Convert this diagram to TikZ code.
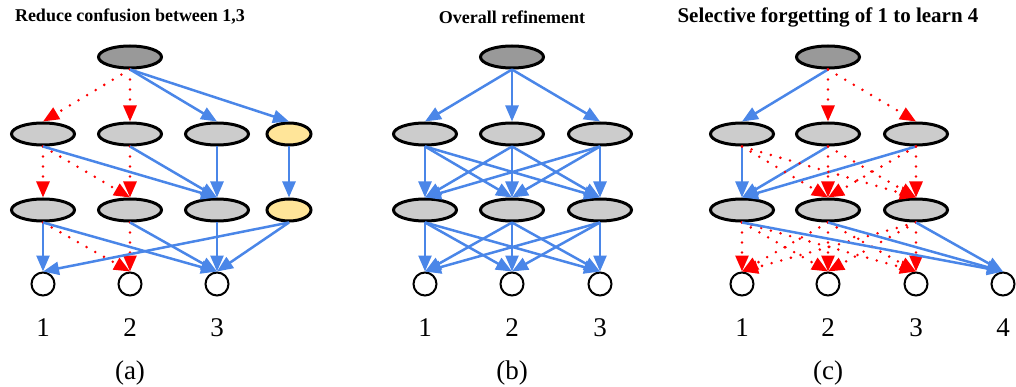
\documentclass[tikz,border=0pt]{standalone}
\usepackage{fontspec}
\setmainfont{Liberation Serif}
\usetikzlibrary{arrows.meta,shapes.geometric}
\definecolor{eblue}{HTML}{4A86E8}
\definecolor{topgray}{HTML}{999999}
\definecolor{midgray}{HTML}{CCCCCC}
\definecolor{yel}{HTML}{FFE599}
\tikzset{
  topn/.style={ellipse, draw, line width=3pt, fill=topgray, minimum width=63pt, minimum height=22pt, inner sep=0pt},
  midn/.style={ellipse, draw, line width=3pt, fill=midgray, minimum width=63pt, minimum height=22pt, inner sep=0pt},
  yeln/.style={ellipse, draw, line width=3pt, fill=yel, minimum width=44pt, minimum height=22pt, inner sep=0pt},
  outn/.style={circle, draw, line width=2pt, fill=white, minimum size=23pt, inner sep=0pt},
  bl/.style={draw=eblue, line width=2.5pt, -{Triangle[length=16pt,width=13pt]}},
  rd/.style={draw=red, line width=2.8pt, line cap=round, dash pattern=on 0pt off 10pt, -{Triangle[length=16pt,width=13pt]}},
  ttl/.style={font=\bfseries\fontsize{18}{20}\selectfont},
  ttlc/.style={font=\bfseries\fontsize{21}{24}\selectfont},
  lbl/.style={font=\fontsize{27}{30}\selectfont},
}
\begin{document}
\begin{tikzpicture}[x=1pt,y=-1pt]
\useasboundingbox (0,0) rectangle (1016,387);
% ---------------- panel (a)
\node[ttl] (ta) at (130,17) {Reduce confusion between 1,3};
\node[topn] (a0) at (130,57) {};
\node[midn] (a1) at (43,134) {};
\node[midn] (a2) at (130,134) {};
\node[midn] (a3) at (217,134) {};
\node[yeln] (a4) at (289,134) {};
\node[midn] (a5) at (43,210) {};
\node[midn] (a6) at (130,210) {};
\node[midn] (a7) at (217,210) {};
\node[yeln] (a8) at (289,210) {};
\node[outn] (ac1) at (43,284) {};
\node[outn] (ac2) at (130,284) {};
\node[outn] (ac3) at (217,284) {};
\node[lbl] (al1) at (43,328) {1};
\node[lbl] (al2) at (130,328) {2};
\node[lbl] (al3) at (217,328) {3};
\node[lbl] (ala) at (130,373) {(a)};
\draw[rd] (a0.south) -- (a1.north);
\draw[rd] (a0.south) -- (a2.north);
\draw[bl] (a0.south) -- (a3.north);
\draw[bl] (a0.south) -- (a4.north);
\draw[rd] (a1.south) -- (a5.north);
\draw[rd] (a1.south) -- (a6.north);
\draw[bl] (a1.south) -- (a7.north);
\draw[rd] (a2.south) -- (a6.north);
\draw[bl] (a2.south) -- (a7.north);
\draw[bl] (a3.south) -- (a7.north);
\draw[bl] (a4.south) -- (a8.north);
\draw[bl] (a5.south) -- (ac1.north);
\draw[rd] (a5.south) -- (ac2.north);
\draw[bl] (a5.south) -- (ac3.north);
\draw[rd] (a6.south) -- (ac2.north);
\draw[bl] (a6.south) -- (ac3.north);
\draw[bl] (a7.south) -- (ac3.north);
\draw[bl] (a8.south) -- (ac1.north);
\draw[bl] (a8.south) -- (ac3.north);
% ---------------- panel (b)
\node[ttl] (tb) at (512,17) {Overall refinement};
\node[topn] (b0) at (512,57) {};
\node[midn] (b1) at (425,134) {};
\node[midn] (b2) at (512,134) {};
\node[midn] (b3) at (600,134) {};
\node[midn] (b4) at (425,210) {};
\node[midn] (b5) at (512,210) {};
\node[midn] (b6) at (600,210) {};
\node[outn] (bc1) at (425,284) {};
\node[outn] (bc2) at (512,284) {};
\node[outn] (bc3) at (600,284) {};
\node[lbl] (bl1) at (425,328) {1};
\node[lbl] (bl2) at (512,328) {2};
\node[lbl] (bl3) at (600,328) {3};
\node[lbl] (blb) at (512,373) {(b)};
\foreach \t in {b1,b2,b3} \draw[bl] (b0.south) -- (\t.north);
\foreach \s in {b1,b2,b3} \foreach \t in {b4,b5,b6} \draw[bl] (\s.south) -- (\t.north);
\foreach \s in {b4,b5,b6} \foreach \t in {bc1,bc2,bc3} \draw[bl] (\s.south) -- (\t.north);
% ---------------- panel (c)
\node[ttlc] (tc) at (828,17) {Selective forgetting of 1 to learn 4};
\node[topn] (c0) at (828,57) {};
\node[midn] (c1) at (742,134) {};
\node[midn] (c2) at (828,134) {};
\node[midn] (c3) at (916,134) {};
\node[midn] (c4) at (742,210) {};
\node[midn] (c5) at (828,210) {};
\node[midn] (c6) at (916,210) {};
\node[outn] (cc1) at (742,284) {};
\node[outn] (cc2) at (828,284) {};
\node[outn] (cc3) at (916,284) {};
\node[outn] (cc4) at (1003,284) {};
\node[lbl] (cl1) at (742,328) {1};
\node[lbl] (cl2) at (828,328) {2};
\node[lbl] (cl3) at (916,328) {3};
\node[lbl] (cl4) at (1003,328) {4};
\node[lbl] (clc) at (828,373) {(c)};
\draw[bl] (c0.south) -- (c1.north);
\draw[rd] (c0.south) -- (c2.north);
\draw[rd] (c0.south) -- (c3.north);
\foreach \s in {c1,c2,c3} \draw[bl] (\s.south) -- (c4.north);
\foreach \s in {c1,c2,c3} \foreach \t in {c5,c6} \draw[rd] (\s.south) -- (\t.north);
\foreach \s in {c4,c5,c6} \foreach \t in {cc1,cc2,cc3} \draw[rd] (\s.south) -- (\t.north);
\foreach \s in {c4,c5,c6} \draw[bl] (\s.south) -- (cc4.north);
\end{tikzpicture}
\end{document}
